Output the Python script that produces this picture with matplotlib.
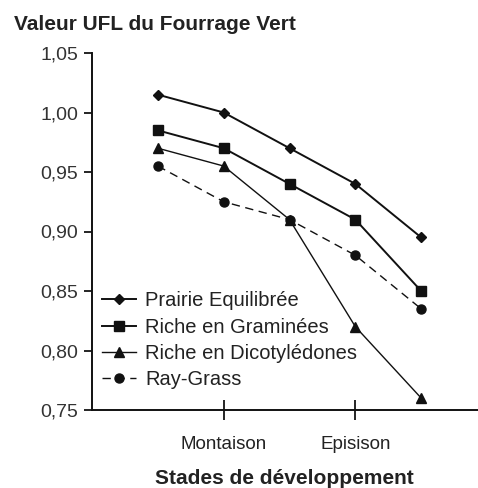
import matplotlib
matplotlib.use("Agg")
import matplotlib.pyplot as plt
from matplotlib.ticker import FuncFormatter

plt.rcParams['font.family'] = ['Liberation Sans', 'DejaVu Sans']

x_pos = [0.5, 1.0, 1.5, 2.0, 2.5]
prairie = [1.015, 1.00, 0.97, 0.94, 0.895]
graminees = [0.985, 0.97, 0.94, 0.91, 0.85]
dicot = [0.97, 0.955, 0.91, 0.82, 0.76]
raygrass = [0.955, 0.925, 0.91, 0.88, 0.835]
xtick_pos = [1, 2]
xtick_labels = ["Montaison", "Episison"]
yticks = [0.75, 0.80, 0.85, 0.90, 0.95, 1.00, 1.05]

fig = plt.figure(figsize=(4.78, 4.88), dpi=100)
W, H = 478, 488
ax = fig.add_axes([92 / W, 1 - 410 / H, (478 - 92) / W, (410 - 53) / H])

c = '#111111'
ax.plot(x_pos, prairie, color=c, lw=1.4, marker='D', ms=5.5, label='Prairie Equilibrée')
ax.plot(x_pos, graminees, color=c, lw=1.4, marker='s', ms=6.5, label='Riche en Graminées')
ax.plot(x_pos, dicot, color=c, lw=1.0, marker='^', ms=6.5, label='Riche en Dicotylédones')
ax.plot(x_pos, raygrass, color=c, lw=1.0, ls=(0, (6, 4)), marker='o', ms=6.5, label='Ray-Grass')

ax.set_xlim(0, (478 - 225) / 131 + 1)
ax.set_ylim(0.75, 1.05)
ax.set_yticks(yticks)
ax.yaxis.set_major_formatter(FuncFormatter(lambda v, p: f"{v:.2f}".replace('.', ',')))
ax.set_xticks(xtick_pos)
ax.set_xticklabels(xtick_labels, fontsize=13.5, color='#222222')
ax.tick_params(axis='y', direction='out', length=6, width=1.2, labelsize=14, labelcolor='#333333', pad=4)
ax.tick_params(axis='x', direction='inout', length=14, width=1.2, pad=12)
for s in ['top', 'right']:
    ax.spines[s].set_visible(False)
for s in ['left', 'bottom']:
    ax.spines[s].set_linewidth(1.4)
    ax.spines[s].set_color(c)

leg = ax.legend(loc='lower left', bbox_to_anchor=(0.0, 0.03), frameon=False, fontsize=14.5,
                handlelength=1.7, handletextpad=0.45, labelspacing=0.36, borderaxespad=0.1)
for t in leg.get_texts():
    t.set_color('#222222')

fig.text(14 / W, 1 - 25 / H, "Valeur UFL du Fourrage Vert", fontsize=15, fontweight='bold',
         color='#222222', va='center', ha='left')
fig.text(284 / W, 1 - 478 / H, "Stades de développement", fontsize=15, fontweight='bold',
         color='#222222', va='center', ha='center')

fig.savefig('out.png', dpi=100)
